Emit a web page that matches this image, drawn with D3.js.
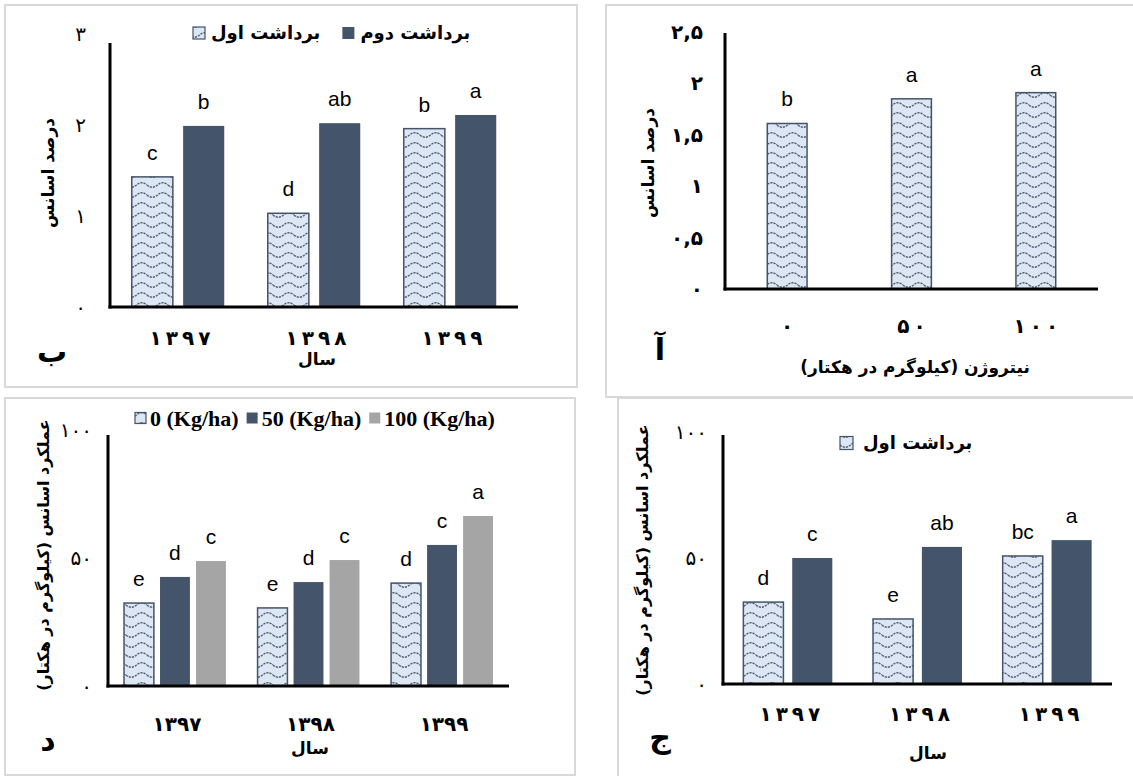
<!DOCTYPE html>
<html>
<head>
<meta charset="utf-8">
<script src="https://cdn.jsdelivr.net/npm/d3@7"></script>
<style>
  body { margin: 0; background: #fff; }
  text { fill: #000; }
</style>
</head>
<body>
<script>
// categories
var years = ["۱۳۹۷", "۱۳۹۸", "۱۳۹۹"];
var nitrogenLevels = ["۰", "۵۰", "۱۰۰"];

// panel آ : essential oil % by nitrogen
var oilPctByN = [1.61, 1.85, 1.91];
var oilPctByNLetters = ["b", "a", "a"];

// panel ب : essential oil % by year, two harvests
var oilPctHarvest1 = [1.43, 1.03, 1.96];
var oilPctHarvest2 = [1.99, 2.02, 2.11];
var oilPctLetters1 = ["c", "d", "b"];
var oilPctLetters2 = ["b", "ab", "a"];

// panel ج : oil yield by year, two harvests
var yieldHarvest1 = [32.5, 25.8, 50.8];
var yieldHarvest2 = [50.0, 54.4, 57.1];
var yieldLetters1 = ["d", "e", "bc"];
var yieldLetters2 = ["c", "ab", "a"];

// panel د : oil yield by year and nitrogen
var yieldN0 = [32.4, 30.5, 40.2];
var yieldN50 = [42.6, 40.6, 55.1];
var yieldN100 = [48.8, 49.2, 66.4];
var yieldLettersN0 = ["e", "e", "d"];
var yieldLettersN50 = ["d", "d", "c"];
var yieldLettersN100 = ["c", "c", "a"];

// tick labels
var pctTicks = [0, 1, 2, 3];
var pctTickLabels = ["۰", "۱", "۲", "۳"];
var pctNTicks = [0, 0.5, 1, 1.5, 2, 2.5];
var pctNTickLabels = ["۰", "۰,۵", "۱", "۱,۵", "۲", "۲,۵"];
var yieldTicks = [0, 50, 100];
var yieldTickLabels = ["۰", "۵۰", "۱۰۰"];

var faFont = "'DejaVu Sans', sans-serif";
var letterFont = "'Liberation Sans', Arial, sans-serif";
var darkColor = "#44546a";
var grayColor = "#a5a5a5";

var svg = d3.select("body").append("svg")
  .attr("width", 1133)
  .attr("height", 776);

// wavy pattern used by the first series
var defs = svg.append("defs");
var pat = defs.append("pattern")
  .attr("id", "wave")
  .attr("patternUnits", "userSpaceOnUse")
  .attr("width", 21)
  .attr("height", 10);
pat.append("rect").attr("width", 21).attr("height", 10).attr("fill", "#dde7f3");
pat.append("path")
  .attr("d", "M0,5 Q5.25,9.5 10.5,5 T21,5")
  .attr("fill", "none")
  .attr("stroke", "#4f5f75")
  .attr("stroke-width", 1.4)
  .attr("stroke-dasharray", "2.2,1");

function fillFor(kind) {
  if (kind == "wave") return "url(#wave)";
  if (kind == "dark") return darkColor;
  return grayColor;
}

function drawPanel(p) {
  var g = svg.append("g");

  g.append("rect")
    .attr("x", p.border[0]).attr("y", p.border[1])
    .attr("width", p.border[2]).attr("height", p.border[3])
    .attr("fill", "none")
    .attr("stroke", "#d9d9d9")
    .attr("stroke-width", 2);

  var y = d3.scaleLinear().domain([0, p.yMax]).range([p.yZero, p.yTop]);
  var x = d3.scaleBand().domain(p.cats)
    .range([p.x0, p.x1])
    .paddingInner(p.padIn)
    .paddingOuter(p.padOut);
  var xs = d3.scaleBand().domain(d3.range(p.series.length))
    .range([0, x.bandwidth()])
    .paddingInner(p.subPad);

  // y tick labels
  var yAxis = g.append("g")
    .attr("transform", "translate(" + p.x0 + ",0)")
    .call(d3.axisLeft(y).tickValues(p.ticks)
      .tickFormat(function(d, i) { return p.tickLabels[i]; })
      .tickSize(0).tickPadding(p.yPad));
  yAxis.select(".domain").remove();
  yAxis.selectAll("text")
    .attr("font-family", faFont)
    .attr("font-weight", p.yBold ? "bold" : "normal")
    .attr("font-size", 20)
    .attr("fill", "#000");

  // x tick labels (digits spread apart in some panels)
  var xAxis = g.append("g")
    .attr("transform", "translate(0," + p.yZero + ")")
    .call(d3.axisBottom(x).tickSize(0).tickPadding(p.xPad)
      .tickFormat(function(d) { return p.spaced ? d.split("").join("\u2009") : d; }));
  xAxis.select(".domain").remove();
  xAxis.selectAll("text")
    .attr("font-family", faFont)
    .attr("font-weight", "bold")
    .attr("font-size", 20)
    .attr("fill", "#000")
    .attr("dx", p.xDx);

  // bars
  p.series.forEach(function(s, si) {
    var bars = g.append("g").selectAll("g")
      .data(p.cats.map(function(c, i) { return {cat: c, v: s.values[i], l: s.letters[i]}; }))
      .enter().append("g");
    bars.append("rect")
      .attr("x", function(d) { return x(d.cat) + xs(si); })
      .attr("y", function(d) { return y(d.v); })
      .attr("width", xs.bandwidth())
      .attr("height", function(d) { return p.yZero - y(d.v); })
      .attr("fill", fillFor(s.kind))
      .attr("stroke", s.kind == "wave" ? darkColor : "none")
      .attr("stroke-width", 1.5);
    bars.append("text")
      .attr("x", function(d) { return x(d.cat) + xs(si) + xs.bandwidth() / 2; })
      .attr("y", function(d) { return y(d.v) - 17; })
      .attr("text-anchor", "middle")
      .attr("font-family", letterFont)
      .attr("font-size", 21)
      .text(function(d) { return d.l; });
  });

  // axis lines
  g.append("line")
    .attr("x1", p.x0).attr("x2", p.x0)
    .attr("y1", p.axisTop).attr("y2", p.yZero + 1.5)
    .attr("stroke", "#000").attr("stroke-width", 3);
  g.append("line")
    .attr("x1", p.x0 - 1.5).attr("x2", p.x1)
    .attr("y1", p.yZero).attr("y2", p.yZero)
    .attr("stroke", "#000").attr("stroke-width", 3);

  // titles
  g.append("text")
    .attr("x", p.xTitle[0]).attr("y", p.xTitle[1])
    .attr("text-anchor", "middle")
    .attr("font-family", faFont).attr("font-weight", "bold").attr("font-size", 17)
    .text(p.xTitleText);
  g.append("text")
    .attr("transform", "translate(" + p.yTitle[0] + "," + p.yTitle[1] + ") rotate(-90)")
    .attr("text-anchor", "middle")
    .attr("dy", "0.35em")
    .attr("font-family", faFont).attr("font-weight", "bold").attr("font-size", p.yTitleSize)
    .text(p.yTitleText);
  g.append("text")
    .attr("x", p.tag[0]).attr("y", p.tag[1])
    .attr("text-anchor", "middle")
    .attr("font-family", faFont).attr("font-weight", "bold").attr("font-size", 30)
    .text(p.tagText);

  // legend
  if (p.legend) {
    var lx = p.legend.x;
    p.legend.items.forEach(function(it) {
      g.append("rect")
        .attr("x", lx).attr("y", p.legend.y - p.legend.icon / 2)
        .attr("width", p.legend.icon).attr("height", p.legend.icon)
        .attr("fill", fillFor(it.kind))
        .attr("stroke", it.kind == "wave" ? darkColor : "none")
        .attr("stroke-width", 1.2);
      var t = g.append("text")
        .attr("x", lx + p.legend.icon + p.legend.pad).attr("y", p.legend.y)
        .attr("dy", "0.35em")
        .attr("font-family", p.legend.font)
        .attr("font-weight", "bold")
        .attr("font-size", p.legend.size)
        .text(it.label);
      lx += p.legend.icon + p.legend.pad + t.node().getComputedTextLength() + p.legend.gap;
    });
  }
}

// ب
drawPanel({
  border: [5, 5, 572, 382],
  x0: 110, x1: 518, yZero: 307, yTop: 34, axisTop: 43, yMax: 3,
  padIn: 0.32, padOut: 0.16, subPad: 0.2,
  ticks: pctTicks, tickLabels: pctTickLabels, yPad: 24, yBold: false,
  cats: years, xPad: 24, xDx: 2, spaced: true,
  series: [
    {values: oilPctHarvest1, letters: oilPctLetters1, kind: "wave"},
    {values: oilPctHarvest2, letters: oilPctLetters2, kind: "dark"}
  ],
  xTitle: [317, 365], xTitleText: "سال",
  yTitle: [48, 173], yTitleText: "درصد اسانس", yTitleSize: 17,
  tag: [52, 362], tagText: "ب",
  legend: {x: 193, y: 33, icon: 12, pad: 6, gap: 22, font: faFont, size: 18,
    items: [{kind: "wave", label: "برداشت اول"}, {kind: "dark", label: "برداشت دوم"}]}
});

// آ
drawPanel({
  border: [606, 5, 540, 392],
  x0: 725, x1: 1098, yZero: 289, yTop: 32, axisTop: 33, yMax: 2.5,
  padIn: 0.68, padOut: 0.34, subPad: 0,
  ticks: pctNTicks, tickLabels: pctNTickLabels, yPad: 22, yBold: true,
  cats: nitrogenLevels, xPad: 30, xDx: 0, spaced: true,
  series: [
    {values: oilPctByN, letters: oilPctByNLetters, kind: "wave"}
  ],
  xTitle: [915, 373], xTitleText: "نیتروژن (کیلوگرم در هکتار)",
  yTitle: [648, 163], yTitleText: "درصد اسانس", yTitleSize: 17,
  tag: [660, 360], tagText: "آ"
});

// د
drawPanel({
  border: [5, 398, 570, 377],
  x0: 108, x1: 509, yZero: 686, yTop: 430, axisTop: 435, yMax: 100,
  padIn: 0.237, padOut: 0.12, subPad: 0.17,
  ticks: yieldTicks, tickLabels: yieldTickLabels, yPad: 16, yBold: false,
  cats: years, xPad: 31, xDx: 2, spaced: false,
  series: [
    {values: yieldN0, letters: yieldLettersN0, kind: "wave"},
    {values: yieldN50, letters: yieldLettersN50, kind: "dark"},
    {values: yieldN100, letters: yieldLettersN100, kind: "gray"}
  ],
  xTitle: [310, 754], xTitleText: "سال",
  yTitle: [43, 555], yTitleText: "عملکرد اسانس (کیلوگرم در هکتار)", yTitleSize: 16,
  tag: [48, 750], tagText: "د",
  legend: {x: 135, y: 418, icon: 11, pad: 4, gap: 8, font: "'Liberation Serif', 'Times New Roman', serif", size: 22,
    items: [{kind: "wave", label: "0 (Kg/ha)"}, {kind: "dark", label: "50 (Kg/ha)"}, {kind: "gray", label: "100 (Kg/ha)"}]}
});

// ج
drawPanel({
  border: [618, 398, 530, 390],
  x0: 723, x1: 1112, yZero: 684, yTop: 432, axisTop: 435, yMax: 100,
  padIn: 0.314, padOut: 0.157, subPad: 0.18,
  ticks: yieldTicks, tickLabels: yieldTickLabels, yPad: 16, yBold: false,
  cats: years, xPad: 23, xDx: 2, spaced: true,
  series: [
    {values: yieldHarvest1, letters: yieldLetters1, kind: "wave"},
    {values: yieldHarvest2, letters: yieldLetters2, kind: "dark"}
  ],
  xTitle: [928, 759], xTitleText: "سال",
  yTitle: [642, 560], yTitleText: "عملکرد اسانس (کیلوگرم در هکتار)", yTitleSize: 16,
  tag: [660, 748], tagText: "ج",
  legend: {x: 840, y: 443, icon: 13, pad: 10, gap: 10, font: faFont, size: 18,
    items: [{kind: "wave", label: "برداشت اول"}]}
});
</script>
</body>
</html>
